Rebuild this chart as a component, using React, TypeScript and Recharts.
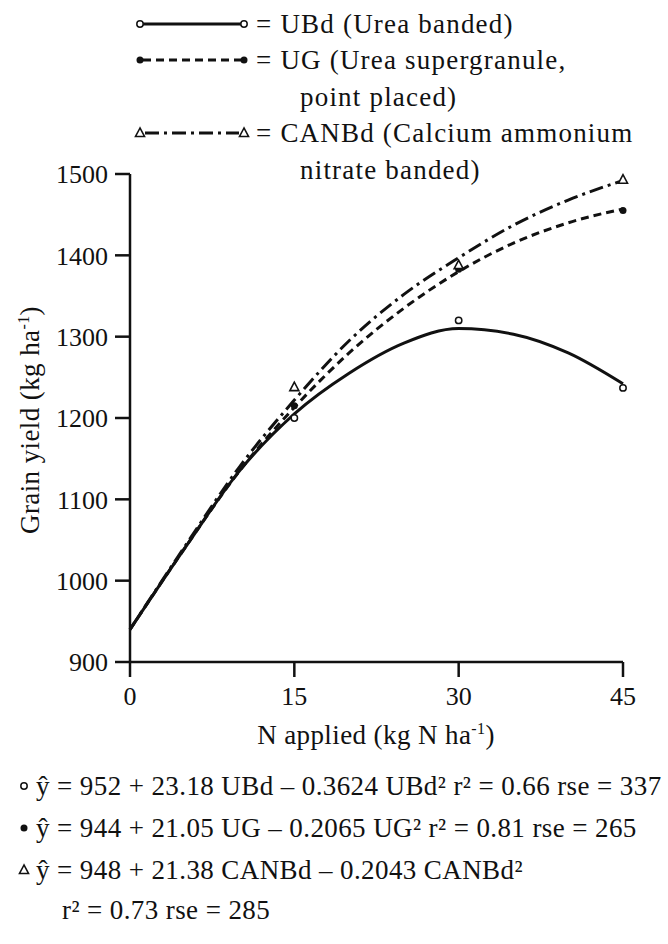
import React from 'react';
import { ComposedChart, Line, Scatter, XAxis, YAxis } from 'recharts';

// fitted response curves (kg ha-1)
const N_RATES = [0, 5, 10, 15, 20, 25, 30, 35, 40, 45];
const UBD_FIT = [940, 1040, 1135, 1205, 1255, 1292, 1310, 1303, 1280, 1242];
const UG_FIT = [940, 1040, 1135, 1213, 1280, 1335, 1380, 1415, 1440, 1457];
const CANBD_FIT = [940, 1042, 1140, 1222, 1295, 1352, 1397, 1437, 1468, 1492];

// observed means
const OBS_RATES = [15, 30, 45];
const UBD_OBS = [1200, 1320, 1237];
const UG_OBS = [1215, 1383, 1455];
const CANBD_OBS = [1238, 1388, 1493];

const X_TICKS = [0, 15, 30, 45];
const Y_TICKS = [900, 1000, 1100, 1200, 1300, 1400, 1500];

const FONT = "'Liberation Serif', 'DejaVu Serif', serif";
const INK = '#111';

const fitData = N_RATES.map((n, i) => ({
  n,
  ubd: UBD_FIT[i],
  ug: UG_FIT[i],
  canbd: CANBD_FIT[i],
}));

const toObs = (vals: number[]) => OBS_RATES.map((n, i) => ({ n, y: vals[i] }));

const OpenCircle = ({ cx, cy }: any) => (
  <circle cx={cx} cy={cy} r={3.2} fill="#fff" stroke={INK} strokeWidth={1.5} />
);
const FilledDot = ({ cx, cy }: any) => <circle cx={cx} cy={cy} r={3.5} fill={INK} />;
const OpenTriangle = ({ cx, cy }: any) => (
  <polygon
    points={`${cx},${cy - 5} ${cx - 4.5},${cy + 3.5} ${cx + 4.5},${cy + 3.5}`}
    fill="#fff"
    stroke={INK}
    strokeWidth={1.6}
  />
);

const Overlay = () => {
  const rows = [24, 60, 97, 133, 170];
  const base = (y: number) => y + 9;
  const legendText = { letterSpacing: 1.2 };
  const eqText = { letterSpacing: 0.4 };
  return (
    <svg
      width={668}
      height={944}
      style={{ position: 'absolute', left: 0, top: 0, pointerEvents: 'none' }}
      fontFamily={FONT}
      fontSize={27}
      fill={INK}
    >
      {/* legend */}
      <line x1={143} y1={rows[0]} x2={241} y2={rows[0]} stroke={INK} strokeWidth={3} />
      <OpenCircle cx={140} cy={rows[0]} />
      <OpenCircle cx={244} cy={rows[0]} />
      <text x={256} y={base(rows[0])} style={legendText}>= UBd (Urea banded)</text>

      <line x1={143} y1={rows[1]} x2={241} y2={rows[1]} stroke={INK} strokeWidth={3} strokeDasharray="8 5" />
      <FilledDot cx={140} cy={rows[1]} />
      <FilledDot cx={244} cy={rows[1]} />
      <text x={256} y={base(rows[1])} style={legendText}>= UG (Urea supergranule,</text>
      <text x={300} y={base(rows[2])} style={legendText}>point placed)</text>

      <line x1={145} y1={rows[3]} x2={239} y2={rows[3]} stroke={INK} strokeWidth={3} strokeDasharray="14 5 3 5" />
      <OpenTriangle cx={140} cy={rows[3]} />
      <OpenTriangle cx={244} cy={rows[3]} />
      <text x={256} y={base(rows[3])} style={legendText}>= CANBd (Calcium ammonium</text>
      <text x={300} y={base(rows[4])} style={legendText}>nitrate banded)</text>

      {/* axis titles */}
      <text x={30} y={420} textAnchor="middle" transform="rotate(-90, 30, 420)" dy={9} style={eqText}>
        Grain yield (kg ha
        <tspan dy={-10} fontSize={16}>-1</tspan>
        <tspan dy={10}>)</tspan>
      </text>
      <text x={376} y={744} textAnchor="middle" style={eqText}>
        N applied (kg N ha
        <tspan dy={-10} fontSize={16}>-1</tspan>
        <tspan dy={10}>)</tspan>
      </text>

      {/* regression equations */}
      <OpenCircle cx={24} cy={786} />
      <text x={36} y={base(786)} style={eqText}>ŷ = 952 + 23.18 UBd – 0.3624  UBd² r² = 0.66 rse = 337</text>
      <FilledDot cx={24} cy={828} />
      <text x={36} y={base(828)} style={eqText}>ŷ = 944 + 21.05 UG – 0.2065  UG² r² = 0.81 rse = 265</text>
      <OpenTriangle cx={24} cy={870} />
      <text x={36} y={base(870)} style={eqText}>ŷ = 948 + 21.38 CANBd – 0.2043 CANBd²</text>
      <text x={62} y={base(910)} style={eqText}>r² = 0.73  rse = 285</text>
    </svg>
  );
};

export default function App() {
  const tickStyle = { fontFamily: FONT, fontSize: 26, fill: INK };
  return (
    <div style={{ position: 'absolute', left: 0, top: 0, width: 668, height: 944, background: '#fff' }}>
      <ComposedChart
        width={668}
        height={944}
        data={fitData}
        margin={{ top: 174, right: 45, bottom: 252, left: 50 }}
      >
        <XAxis
          dataKey="n"
          type="number"
          domain={[0, 45]}
          ticks={X_TICKS}
          height={30}
          tickSize={15}
          tickMargin={10}
          tick={tickStyle}
          axisLine={{ stroke: INK, strokeWidth: 2.5 }}
          tickLine={{ stroke: INK, strokeWidth: 2.5 }}
          interval={0}
        />
        <YAxis
          type="number"
          domain={[900, 1500]}
          ticks={Y_TICKS}
          width={80}
          tickSize={15}
          tickMargin={7}
          tick={tickStyle}
          axisLine={{ stroke: INK, strokeWidth: 2.5 }}
          tickLine={{ stroke: INK, strokeWidth: 2.5 }}
          interval={0}
        />
        <Line dataKey="ubd" type="monotone" stroke={INK} strokeWidth={3} dot={false} isAnimationActive={false} />
        <Line
          dataKey="ug"
          type="monotone"
          stroke={INK}
          strokeWidth={3}
          strokeDasharray="8 5"
          dot={false}
          isAnimationActive={false}
        />
        <Line
          dataKey="canbd"
          type="monotone"
          stroke={INK}
          strokeWidth={3}
          strokeDasharray="14 5 3 5"
          dot={false}
          isAnimationActive={false}
        />
        <Scatter data={toObs(UBD_OBS)} dataKey="y" shape={OpenCircle} isAnimationActive={false} />
        <Scatter data={toObs(UG_OBS)} dataKey="y" shape={FilledDot} isAnimationActive={false} />
        <Scatter data={toObs(CANBD_OBS)} dataKey="y" shape={OpenTriangle} isAnimationActive={false} />
      </ComposedChart>
      <Overlay />
    </div>
  );
}
